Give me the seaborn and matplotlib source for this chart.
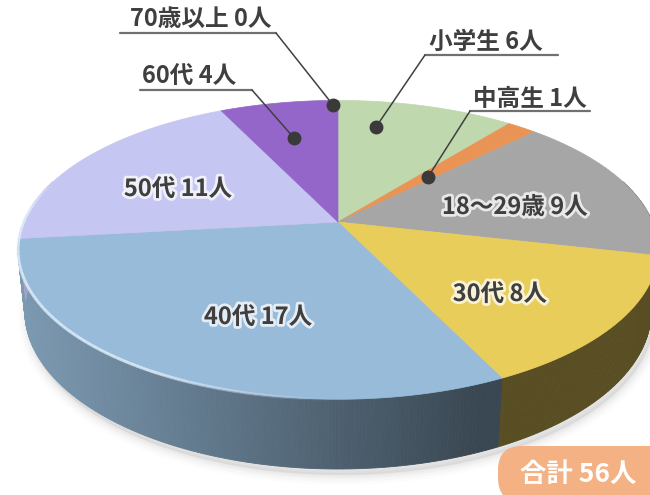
import numpy as np
import matplotlib.pyplot as plt
import matplotlib.patheffects as pe
from matplotlib.patches import FancyBboxPatch
import seaborn as sns

sns.set_theme(style="white")
plt.rcParams['font.family'] = ['Noto Sans CJK JP', 'DejaVu Sans']

# data (clockwise from 12 o'clock)
categories = ['小学生', '中高生', '18～29歳', '30代', '40代', '50代', '60代', '70歳以上']
counts = [6, 1, 9, 8, 17, 11, 4, 0]
top_colors = ['#BFD8AE', '#E99455', '#A6A6A6', '#E9CD5B', '#97BBD9', '#C6C6F2', '#9566C9', '#8A8A8A']

# label layout (pixel coords)
inner_pos = {'18～29歳': (515, 207), '30代': (500, 294), '40代': (258, 317), '50代': (178, 189)}
# text center, underline (x0, x1, y), leader end (dot)
outer_pos = {
    '70歳以上': ((201, 19), (120, 276, 33), (333, 105)),
    '60代': ((189, 77), (140, 252, 90), (294, 138)),
    '小学生': ((486, 42), (425, 558, 55), (376, 127)),
    '中高生': ((530, 99), (470, 590, 111), (428, 177)),
}

# perspective parameters
CX, CY = 338, 222
F, DIST, ELEV = 1500, 4.77, np.radians(27.3)
H = 0.222


def project(theta, z=0.0):
    X = np.sin(theta)
    Y = -np.cos(theta)
    up = z * np.cos(ELEV) - Y * np.sin(ELEV)
    d = DIST - (Y * np.cos(ELEV) + z * np.sin(ELEV))
    return CX + F * X / d, CY - F * up / d


def shade(x):
    return np.clip(0.82 - 0.45 * (x - 20) / 470, 0.38, 0.85)


total = sum(counts)
bounds = np.concatenate([[0], np.cumsum(counts)]) / total * 2 * np.pi

fig = plt.figure(figsize=(6.5, 4.95), dpi=100)
ax = fig.add_axes([0, 0, 1, 1])
ax.set_xlim(0, 650)
ax.set_ylim(495, 0)
ax.axis('off')

# soft shadow
tt = np.linspace(0, 2 * np.pi, 300)
bx, by = project(tt, -H)
for k, a in zip([14, 10, 6, 3], [0.025, 0.035, 0.045, 0.05]):
    ax.fill(bx + 3, by + 6, color='#808080', alpha=a, lw=k, ec='#808080', zorder=0)

# side walls
lo, hi = np.pi / 2 - 0.3, 3 * np.pi / 2 + 0.3
for i, n in enumerate(counts):
    a0, a1 = max(bounds[i], lo), min(bounds[i + 1], hi)
    if n == 0 or a1 <= a0:
        continue
    base = np.array(plt.matplotlib.colors.to_rgb(top_colors[i]))
    steps = np.linspace(a0, a1, max(2, int((a1 - a0) / 0.01)))
    for s0, s1 in zip(steps[:-1], steps[1:]):
        x0, y0 = project(s0)
        x1, y1 = project(s1)
        x2, y2 = project(s1, -H)
        x3, y3 = project(s0, -H)
        c = base * shade((x0 + x1) / 2)
        ax.fill([x0, x1, x2, x3], [y0, y1, y2, y3], color=c, ec=c, lw=0.6, zorder=1)

# top faces
for i, n in enumerate(counts):
    if n == 0:
        continue
    t = np.linspace(bounds[i], bounds[i + 1], max(3, int(n * 20)))
    rx, ry = project(t)
    ax.fill(np.r_[CX, rx], np.r_[CY, ry], color=top_colors[i], ec=top_colors[i], lw=0.5, zorder=2)

# rim highlight on the front left
th = np.linspace(np.pi * 1.0, np.pi * 1.6, 80)
hx, hy = project(th)
for j in range(len(th) - 1):
    a = 0.75 * np.clip((th[j] - np.pi) / 0.5, 0, 1) * np.clip((np.pi * 1.6 - th[j]) / 0.25, 0, 1)
    ax.plot(hx[j:j + 2], hy[j:j + 2], color='#E8F4FF', alpha=a, lw=2.2, solid_capstyle='butt', zorder=3)

glow = [pe.withStroke(linewidth=4, foreground='white', alpha=0.75)]
txt_col = '#3F3F3F'
fs = 17
for cat, n in zip(categories, counts):
    label = f'{cat} {n}人'
    if cat in inner_pos:
        x, y = inner_pos[cat]
        ax.text(x, y, label, ha='center', va='center', fontsize=fs, fontweight='bold',
                color=txt_col, path_effects=glow, zorder=5)
    else:
        (tx, ty), (u0, u1, uy), (dx, dy) = outer_pos[cat]
        ax.text(tx, ty, label, ha='center', va='center', fontsize=fs, fontweight='bold',
                color=txt_col, zorder=5)
        ax.plot([u0, u1], [uy, uy], color='#707070', lw=1.6, zorder=4)
        lx = u1 if cat in ('70歳以上', '60代') else u0
        ax.plot([lx, dx], [uy, dy], color='#404040', lw=1.1, zorder=4)
        ax.plot(dx, dy, 'o', ms=9, color='#3A3A3A', zorder=4)

# total badge
badge = FancyBboxPatch((498, 446), 180, 56, boxstyle='round,pad=0,rounding_size=24',
                       fc='#F4B183', ec='none', zorder=6)
ax.add_patch(badge)
ax.text(578, 474, f'合計 {total}人', ha='center', va='center', fontsize=19,
        fontweight='bold', color='white', zorder=7)

fig.savefig('out.png', dpi=100)
